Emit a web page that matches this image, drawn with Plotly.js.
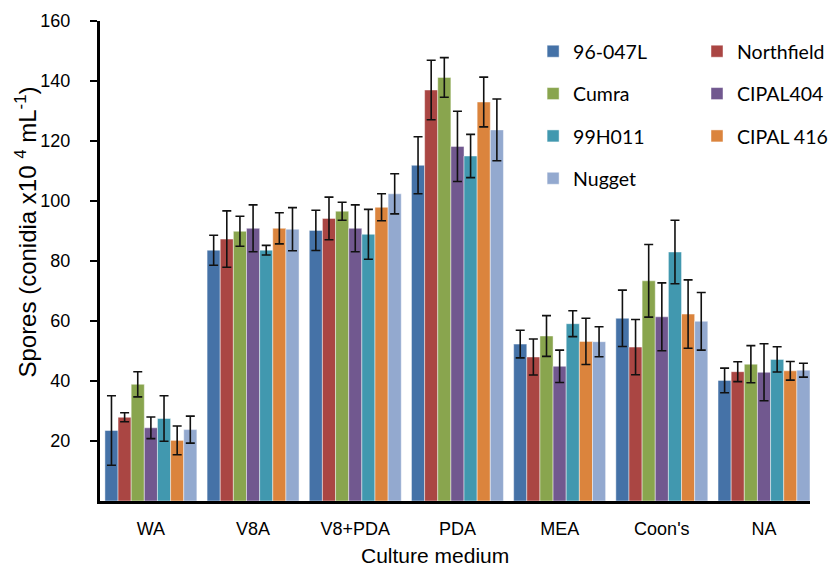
<!DOCTYPE html>
<html>
<head>
<meta charset="utf-8">
<script src="https://cdn.plot.ly/plotly-3.0.1.min.js"></script>
<style>html,body{margin:0;padding:0;background:#fff;}#chart{width:833px;height:567px;}</style>
</head>
<body>
<div id="chart"></div>
<script>
var categories = ["WA", "V8A", "V8+PDA", "PDA", "MEA", "Coon's", "NA"];
var seriesNames = ["96-047L", "Northfield", "Cumra", "CIPAL404", "99H011", "CIPAL 416", "Nugget"];

var s96047L    = [23.5, 83.6, 90.2, 111.9, 52.3, 60.9, 40.2];
var sNorthfield = [27.9, 87.3, 94.2, 137.0, 48.0, 51.3, 43.1];
var sCumra     = [38.9, 89.9, 96.6, 141.2, 55.0, 73.4, 45.6];
var sCIPAL404  = [24.4, 90.9, 90.9, 118.2, 44.9, 61.4, 42.9];
var s99H011    = [27.5, 83.6, 88.9, 115.0, 59.1, 83.0, 47.2];
var sCIPAL416  = [20.2, 90.9, 97.9, 133.0, 53.2, 62.3, 43.4];
var sNugget    = [23.8, 90.6, 102.4, 123.7, 53.1, 59.9, 43.6];

var e96047L    = [11.6, 5.0, 6.7, 9.5, 4.6, 9.4, 4.1];
var eNorthfield = [1.5, 9.4, 7.1, 9.9, 6.0, 9.2, 3.3];
var eCumra     = [4.2, 5.0, 3.0, 6.6, 6.8, 12.1, 6.2];
var eCIPAL404  = [3.6, 7.8, 7.8, 11.7, 5.4, 11.3, 9.5];
var e99H011    = [7.6, 1.6, 8.3, 7.2, 4.3, 10.6, 4.2];
var eCIPAL416  = [4.8, 5.2, 4.5, 8.3, 7.7, 11.4, 3.1];
var eNugget    = [4.5, 7.2, 6.7, 10.3, 5.0, 9.6, 2.3];

var yTicks = [20, 40, 60, 80, 100, 120, 140, 160];
var xTitle = "Culture medium";
var yTitle = "Spores (conidia x10 <sup>4</sup> mL<sup>-1</sup>)";

var values = [s96047L, sNorthfield, sCumra, sCIPAL404, s99H011, sCIPAL416, sNugget];
var errors = [e96047L, eNorthfield, eCumra, eCIPAL404, e99H011, eCIPAL416, eNugget];
var colors = ["#4572A7", "#AA4643", "#89A54E", "#71588F", "#4198AF", "#DB843D", "#93A9CF"];

var traces = seriesNames.map(function(name, i) {
  return {
    type: "bar",
    name: name,
    x: categories,
    y: values[i],
    legend: (i % 2 === 0) ? "legend" : "legend2",
    legendgroup: "g" + i,
    marker: {color: colors[i], line: {color: "rgba(255,255,255,0.45)", width: 1}},
    error_y: {type: "data", array: errors[i], visible: true, color: "#111", thickness: 1.6, width: 4.5}
  };
});

var legendFont = {family: "Lato, sans-serif", size: 19.5, color: "#000"};
var axisFont = "Arial, 'Liberation Sans', sans-serif";

var layout = {
  width: 833, height: 567,
  margin: {l: 100, r: 0, t: 21, b: 66},
  paper_bgcolor: "#fff", plot_bgcolor: "#fff",
  barmode: "group", bargap: 0.1, bargroupgap: 0,
  showlegend: true,
  legend: {x: 0.610, y: 0.977, xanchor: "left", yanchor: "top", orientation: "v",
           font: legendFont, tracegroupgap: 14, bgcolor: "rgba(0,0,0,0)"},
  legend2: {x: 0.841, y: 0.977, xanchor: "left", yanchor: "top", orientation: "v",
           font: legendFont, tracegroupgap: 14, bgcolor: "rgba(0,0,0,0)"},
  xaxis: {
    type: "category", range: [-0.498, 6.45],
    showline: true, linecolor: "#000", linewidth: 3,
    ticks: "", showgrid: false, zeroline: false,
    tickfont: {family: axisFont, size: 18, color: "#000"},
    ticklabelstandoff: 9
  },
  yaxis: {
    range: [0, 160], tickvals: yTicks,
    showline: true, linecolor: "#000", linewidth: 3,
    ticks: "outside", ticklen: 7, tickwidth: 2, tickcolor: "#000",
    showgrid: false, zeroline: false,
    tickfont: {family: axisFont, size: 18, color: "#000"},
    ticklabelstandoff: 16
  },
  annotations: [
    {text: xTitle, xref: "paper", yref: "paper", x: 0.472, y: -0.1125, xanchor: "center", yanchor: "middle",
     showarrow: false, font: {family: axisFont, size: 21, color: "#000"}},
    {text: yTitle, xref: "paper", yref: "paper", x: -0.1037, y: 0.56, xanchor: "center", yanchor: "middle",
     textangle: -90, showarrow: false, font: {family: axisFont, size: 24, color: "#000"}}
  ]
};

Plotly.newPlot("chart", traces, layout, {displayModeBar: false, staticPlot: true});
</script>
</body>
</html>
